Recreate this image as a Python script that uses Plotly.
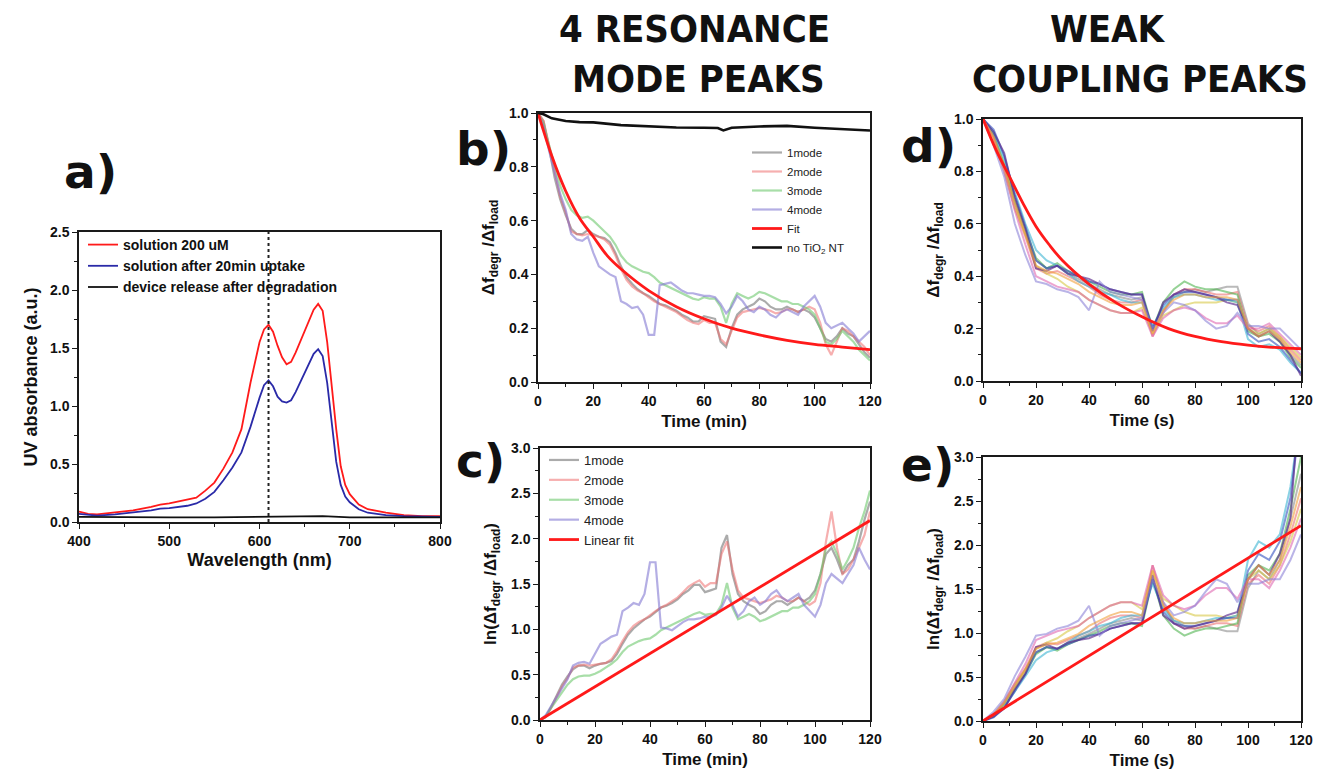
import plotly.graph_objects as go

# ---------------- Panel a : UV absorbance ----------------
wl = [400, 410, 420, 440, 460, 480, 490, 500, 520, 530, 540, 550, 560, 570, 580, 590, 600, 605, 610, 615,
      620, 625, 630, 635, 640, 650, 660, 665, 670, 675, 680, 685, 690, 695, 700, 710, 720, 740, 760, 780, 800]
abs_solution = [0.09, 0.07, 0.065, 0.08, 0.1, 0.13, 0.15, 0.16, 0.19, 0.21, 0.27, 0.34, 0.46, 0.6, 0.8, 1.2, 1.55, 1.66, 1.70, 1.64,
                1.52, 1.42, 1.36, 1.38, 1.46, 1.65, 1.83, 1.88, 1.82, 1.55, 1.17, 0.8, 0.48, 0.32, 0.24, 0.15, 0.11, 0.08, 0.06, 0.05, 0.05]
abs_uptake = [0.07, 0.06, 0.055, 0.065, 0.08, 0.1, 0.115, 0.12, 0.14, 0.16, 0.2, 0.26, 0.36, 0.47, 0.6, 0.82, 1.07, 1.18, 1.22, 1.17,
              1.08, 1.04, 1.03, 1.05, 1.12, 1.28, 1.45, 1.49, 1.43, 1.2, 0.85, 0.52, 0.32, 0.22, 0.17, 0.11, 0.08, 0.06, 0.05, 0.045, 0.045]
wl_release = [400, 450, 500, 550, 600, 650, 670, 700, 750, 800]
abs_release = [0.045, 0.04, 0.04, 0.04, 0.045, 0.05, 0.05, 0.04, 0.04, 0.04]
marker_wavelength = 610

# ---------------- Panels b, c : 4 resonance modes (min) ----------------
t_min = list(range(0, 121, 2))
b_1mode = [1.0, 0.97, 0.87, 0.76, 0.68, 0.62, 0.57, 0.55, 0.55, 0.565, 0.55, 0.54, 0.535, 0.52, 0.48, 0.43, 0.39, 0.365, 0.345, 0.33,
           0.32, 0.305, 0.29, 0.285, 0.275, 0.265, 0.25, 0.24, 0.225, 0.225, 0.245, 0.24, 0.235, 0.15, 0.13, 0.2, 0.25, 0.27, 0.28, 0.29,
           0.31, 0.3, 0.28, 0.27, 0.27, 0.28, 0.27, 0.26, 0.27, 0.26, 0.24, 0.2, 0.16, 0.15, 0.17, 0.2, 0.18, 0.17, 0.14, 0.11, 0.09]
b_2mode = [1.0, 0.97, 0.88, 0.78, 0.69, 0.63, 0.56, 0.55, 0.545, 0.55, 0.545, 0.54, 0.53, 0.51, 0.47, 0.42, 0.38, 0.355, 0.34, 0.33,
           0.315, 0.3, 0.29, 0.28, 0.27, 0.26, 0.245, 0.23, 0.22, 0.215, 0.23, 0.22, 0.22, 0.16, 0.14, 0.19, 0.24, 0.26, 0.265, 0.27,
           0.275, 0.27, 0.265, 0.255, 0.26, 0.27, 0.27, 0.26, 0.27, 0.28, 0.27, 0.22, 0.14, 0.1, 0.15, 0.2, 0.19, 0.17, 0.15, 0.13, 0.1]
b_3mode = [1.0, 0.96, 0.88, 0.8, 0.73, 0.68, 0.64, 0.62, 0.61, 0.615, 0.6, 0.58, 0.56, 0.54, 0.51, 0.47, 0.445, 0.43, 0.42, 0.41,
           0.405, 0.39, 0.37, 0.36, 0.35, 0.34, 0.33, 0.32, 0.31, 0.305, 0.315, 0.31, 0.31, 0.28, 0.22, 0.29, 0.33, 0.32, 0.31, 0.32,
           0.335, 0.33, 0.32, 0.31, 0.3, 0.3, 0.29, 0.29, 0.28, 0.27, 0.25, 0.2, 0.15, 0.14, 0.16, 0.19, 0.17, 0.15, 0.12, 0.1, 0.08]
b_4mode = [1.0, 0.95, 0.86, 0.78, 0.7, 0.64, 0.55, 0.53, 0.525, 0.54, 0.48, 0.43, 0.415, 0.4, 0.39, 0.3, 0.29, 0.275, 0.28, 0.25,
           0.175, 0.175, 0.36, 0.365, 0.37, 0.355, 0.34, 0.33, 0.33, 0.325, 0.32, 0.32, 0.315, 0.29, 0.255, 0.28, 0.32, 0.3, 0.27, 0.26,
           0.28, 0.27, 0.25, 0.24, 0.26, 0.27, 0.26, 0.25, 0.28, 0.3, 0.32, 0.28, 0.22, 0.2, 0.21, 0.22, 0.2, 0.18, 0.15, 0.17, 0.19]
t_fit_b = [0, 5, 10, 15, 20, 25, 30, 40, 50, 60, 70, 80, 90, 100, 110, 120]
fit_b = [1.0, 0.84, 0.71, 0.61, 0.54, 0.47, 0.42, 0.34, 0.28, 0.235, 0.2, 0.175, 0.155, 0.14, 0.13, 0.12]
t_noTiO2 = [0, 2, 5, 10, 15, 20, 30, 40, 50, 60, 65, 67, 70, 80, 90, 100, 110, 120]
no_TiO2 = [1.0, 0.995, 0.98, 0.97, 0.966, 0.965, 0.955, 0.95, 0.946, 0.945, 0.944, 0.935, 0.945, 0.95, 0.952, 0.945, 0.94, 0.935]

c_1mode = [0, 0.03, 0.14, 0.27, 0.39, 0.48, 0.56, 0.6, 0.6, 0.57, 0.6, 0.62, 0.63, 0.65, 0.73, 0.84, 0.94, 1.01, 1.06, 1.11,
           1.14, 1.19, 1.24, 1.26, 1.29, 1.33, 1.39, 1.43, 1.49, 1.49, 1.41, 1.43, 1.45, 1.9, 2.04, 1.61, 1.39, 1.31, 1.27, 1.24,
           1.17, 1.2, 1.27, 1.31, 1.31, 1.27, 1.31, 1.35, 1.31, 1.35, 1.43, 1.61, 1.83, 1.9, 1.77, 1.61, 1.71, 1.77, 1.97, 2.21, 2.41]
c_2mode = [0, 0.03, 0.13, 0.25, 0.37, 0.46, 0.58, 0.6, 0.61, 0.6, 0.61, 0.62, 0.63, 0.67, 0.76, 0.87, 0.97, 1.04, 1.08, 1.11,
           1.16, 1.2, 1.24, 1.27, 1.31, 1.35, 1.41, 1.47, 1.51, 1.54, 1.47, 1.51, 1.51, 1.83, 1.97, 1.66, 1.43, 1.35, 1.33, 1.31,
           1.29, 1.31, 1.33, 1.37, 1.35, 1.31, 1.31, 1.35, 1.31, 1.27, 1.31, 1.51, 1.97, 2.3, 1.9, 1.61, 1.66, 1.77, 1.9, 2.04, 2.3]
c_3mode = [0, 0.04, 0.13, 0.22, 0.31, 0.39, 0.45, 0.48, 0.49, 0.49, 0.51, 0.54, 0.58, 0.62, 0.67, 0.75, 0.81, 0.84, 0.87, 0.89,
           0.9, 0.94, 0.99, 1.02, 1.05, 1.08, 1.11, 1.14, 1.17, 1.19, 1.16, 1.17, 1.17, 1.27, 1.51, 1.24, 1.11, 1.14, 1.17, 1.14,
           1.09, 1.11, 1.14, 1.17, 1.2, 1.2, 1.24, 1.24, 1.27, 1.31, 1.39, 1.61, 1.9, 1.97, 1.83, 1.66, 1.77, 1.9, 2.12, 2.3, 2.53]
c_4mode = [0, 0.05, 0.15, 0.25, 0.36, 0.45, 0.6, 0.63, 0.64, 0.62, 0.73, 0.84, 0.88, 0.92, 0.94, 1.2, 1.24, 1.29, 1.27, 1.39,
           1.74, 1.74, 1.02, 1.01, 0.99, 1.04, 1.08, 1.11, 1.11, 1.12, 1.14, 1.14, 1.16, 1.24, 1.37, 1.27, 1.14, 1.2, 1.31, 1.35,
           1.27, 1.31, 1.39, 1.43, 1.35, 1.31, 1.35, 1.39, 1.27, 1.2, 1.14, 1.27, 1.51, 1.61, 1.56, 1.51, 1.61, 1.71, 1.9, 1.77, 1.66]
t_fit_c = [0, 120]
fit_c = [0.0, 2.2]

# ---------------- Panels d, e : weak coupling peaks (s) ----------------
t_s = list(range(0, 121, 4))
d_curves = [
    [1.0, 0.94, 0.82, 0.68, 0.56, 0.46, 0.43, 0.44, 0.41, 0.39, 0.37, 0.35, 0.33, 0.32, 0.31, 0.32, 0.2, 0.27, 0.32, 0.34, 0.35, 0.34, 0.35, 0.36, 0.36, 0.22, 0.18, 0.2, 0.16, 0.1, 0.06],
    [1.0, 0.93, 0.81, 0.66, 0.55, 0.43, 0.41, 0.42, 0.4, 0.38, 0.36, 0.33, 0.31, 0.3, 0.3, 0.31, 0.17, 0.26, 0.33, 0.35, 0.35, 0.34, 0.33, 0.33, 0.34, 0.21, 0.19, 0.21, 0.17, 0.12, 0.08],
    [1.0, 0.92, 0.8, 0.66, 0.56, 0.44, 0.41, 0.39, 0.36, 0.34, 0.31, 0.29, 0.27, 0.26, 0.26, 0.28, 0.18, 0.25, 0.27, 0.29, 0.3, 0.3, 0.3, 0.31, 0.3, 0.2, 0.18, 0.2, 0.17, 0.13, 0.09],
    [1.0, 0.94, 0.83, 0.69, 0.58, 0.47, 0.43, 0.45, 0.42, 0.4, 0.38, 0.36, 0.34, 0.33, 0.33, 0.34, 0.2, 0.3, 0.35, 0.38, 0.36, 0.35, 0.35, 0.34, 0.33, 0.19, 0.17, 0.18, 0.15, 0.09, 0.05],
    [1.0, 0.95, 0.85, 0.72, 0.6, 0.5, 0.46, 0.44, 0.41, 0.38, 0.36, 0.34, 0.33, 0.31, 0.3, 0.3, 0.21, 0.28, 0.32, 0.33, 0.33, 0.32, 0.31, 0.31, 0.3, 0.16, 0.13, 0.14, 0.12, 0.07, 0.03],
    [1.0, 0.96, 0.86, 0.71, 0.59, 0.46, 0.43, 0.44, 0.42, 0.4, 0.38, 0.37, 0.35, 0.34, 0.33, 0.33, 0.2, 0.29, 0.33, 0.34, 0.34, 0.33, 0.32, 0.31, 0.31, 0.18, 0.15, 0.16, 0.13, 0.08, 0.03],
    [1.0, 0.95, 0.87, 0.7, 0.58, 0.43, 0.42, 0.44, 0.41, 0.4, 0.39, 0.37, 0.35, 0.34, 0.33, 0.33, 0.19, 0.3, 0.33, 0.35, 0.34, 0.33, 0.32, 0.3, 0.29, 0.2, 0.17, 0.19, 0.15, 0.1, 0.02],
    [1.0, 0.93, 0.8, 0.65, 0.52, 0.4, 0.38, 0.36, 0.35, 0.34, 0.31, 0.29, 0.27, 0.26, 0.26, 0.27, 0.17, 0.24, 0.27, 0.28, 0.27, 0.24, 0.22, 0.22, 0.25, 0.2, 0.2, 0.22, 0.18, 0.14, 0.1],
    [1.0, 0.9, 0.78, 0.6, 0.48, 0.38, 0.37, 0.35, 0.34, 0.32, 0.27, 0.38, 0.34, 0.33, 0.32, 0.31, 0.2, 0.26, 0.3, 0.29, 0.27, 0.23, 0.2, 0.21, 0.26, 0.21, 0.21, 0.2, 0.2, 0.16, 0.12],
    [1.0, 0.93, 0.82, 0.68, 0.56, 0.44, 0.42, 0.41, 0.39, 0.37, 0.34, 0.32, 0.3, 0.29, 0.29, 0.3, 0.18, 0.27, 0.31, 0.33, 0.33, 0.32, 0.32, 0.32, 0.31, 0.2, 0.17, 0.19, 0.16, 0.11, 0.07],
]
e_curves = [
    [0, 0.06, 0.2, 0.39, 0.58, 0.78, 0.84, 0.82, 0.89, 0.94, 0.99, 1.05, 1.11, 1.14, 1.17, 1.14, 1.61, 1.31, 1.14, 1.08, 1.05, 1.08, 1.05, 1.02, 1.02, 1.51, 1.71, 1.61, 1.83, 2.3, 2.81],
    [0, 0.07, 0.21, 0.42, 0.6, 0.84, 0.89, 0.87, 0.92, 0.97, 1.02, 1.11, 1.17, 1.2, 1.2, 1.17, 1.77, 1.35, 1.11, 1.05, 1.05, 1.08, 1.11, 1.11, 1.08, 1.56, 1.66, 1.56, 1.77, 2.12, 2.53],
    [0, 0.08, 0.22, 0.42, 0.58, 0.82, 0.89, 0.94, 1.02, 1.08, 1.17, 1.24, 1.31, 1.35, 1.35, 1.27, 1.71, 1.39, 1.31, 1.24, 1.2, 1.2, 1.2, 1.17, 1.2, 1.61, 1.71, 1.61, 1.77, 2.04, 2.41],
    [0, 0.06, 0.19, 0.37, 0.54, 0.76, 0.84, 0.8, 0.87, 0.92, 0.97, 1.02, 1.08, 1.11, 1.11, 1.08, 1.61, 1.2, 1.05, 0.97, 1.02, 1.05, 1.05, 1.08, 1.11, 1.66, 1.77, 1.71, 1.9, 2.41, 3.0],
    [0, 0.05, 0.16, 0.33, 0.51, 0.69, 0.78, 0.82, 0.89, 0.97, 1.02, 1.08, 1.11, 1.17, 1.2, 1.2, 1.56, 1.27, 1.14, 1.11, 1.11, 1.14, 1.17, 1.17, 1.2, 1.83, 2.04, 1.97, 2.12, 2.66, 3.5],
    [0, 0.04, 0.15, 0.34, 0.53, 0.78, 0.84, 0.82, 0.87, 0.92, 0.97, 0.99, 1.05, 1.08, 1.11, 1.11, 1.61, 1.24, 1.11, 1.08, 1.08, 1.11, 1.14, 1.17, 1.17, 1.71, 1.9, 1.83, 2.04, 2.53, 3.5],
    [0, 0.05, 0.14, 0.36, 0.54, 0.84, 0.87, 0.82, 0.89, 0.92, 0.94, 0.99, 1.05, 1.08, 1.11, 1.11, 1.66, 1.2, 1.11, 1.05, 1.08, 1.11, 1.14, 1.2, 1.24, 1.61, 1.77, 1.66, 1.9, 2.3, 3.9],
    [0, 0.07, 0.22, 0.43, 0.65, 0.92, 0.97, 1.02, 1.05, 1.08, 1.17, 1.24, 1.31, 1.35, 1.35, 1.31, 1.77, 1.43, 1.31, 1.27, 1.31, 1.43, 1.51, 1.51, 1.39, 1.61, 1.61, 1.51, 1.71, 1.97, 2.3],
    [0, 0.105, 0.25, 0.51, 0.73, 0.97, 0.99, 1.05, 1.08, 1.14, 1.31, 0.97, 1.08, 1.11, 1.14, 1.17, 1.61, 1.35, 1.2, 1.24, 1.31, 1.47, 1.61, 1.56, 1.35, 1.56, 1.56, 1.61, 1.61, 1.83, 2.12],
    [0, 0.07, 0.2, 0.39, 0.58, 0.82, 0.87, 0.89, 0.94, 0.99, 1.08, 1.14, 1.2, 1.24, 1.24, 1.2, 1.71, 1.31, 1.17, 1.11, 1.11, 1.14, 1.14, 1.14, 1.17, 1.61, 1.77, 1.66, 1.83, 2.21, 2.66],
]
t_fit_d = [0, 5, 10, 15, 20, 25, 30, 40, 50, 60, 70, 80, 90, 100, 110, 120]
fit_d = [1.0, 0.88, 0.78, 0.68, 0.59, 0.52, 0.46, 0.37, 0.3, 0.245, 0.2, 0.17, 0.15, 0.137, 0.128, 0.123]
t_fit_e = [0, 120]
fit_e = [0.0, 2.22]

# ---------------- styles ----------------
# the page body has an 8px margin; the figure is sized so it fills the 1322x772 window
OFF = 8
W, H = 1322 - OFF, 772 - OFF
FONT = "Arial, 'Liberation Sans', sans-serif"
LETTER_FONT = "'DejaVu Sans', Arial, sans-serif"
TITLE_FONT = "'DejaVu Sans Condensed', 'Liberation Sans Narrow', sans-serif"
mode_names = ["1mode", "2mode", "3mode", "4mode"]
mode_colors = ["rgba(120,120,120,0.62)", "rgba(238,110,110,0.55)", "rgba(110,200,110,0.6)", "rgba(130,120,210,0.6)"]
curve_colors = ["rgba(140,140,140,0.6)", "rgba(235,100,100,0.55)", "rgba(215,200,70,0.6)", "rgba(80,180,80,0.6)",
                "rgba(60,180,210,0.6)", "rgba(50,80,190,0.6)", "rgba(90,40,140,0.65)", "rgba(220,90,170,0.55)",
                "rgba(140,130,215,0.6)", "rgba(240,160,60,0.6)"]
RED = "#ff1a1a"

fig = go.Figure()

# panel a
fig.add_trace(go.Scatter(x=wl, y=abs_solution, mode="lines", name="solution 200 uM",
                         line=dict(color=RED, width=1.8), xaxis="x", yaxis="y", legend="legend"))
fig.add_trace(go.Scatter(x=wl, y=abs_uptake, mode="lines", name="solution after 20min uptake",
                         line=dict(color="#2a2aa8", width=1.8), xaxis="x", yaxis="y", legend="legend"))
fig.add_trace(go.Scatter(x=wl_release, y=abs_release, mode="lines", name="device release after degradation",
                         line=dict(color="#111111", width=1.8), xaxis="x", yaxis="y", legend="legend"))
fig.add_trace(go.Scatter(x=[marker_wavelength, marker_wavelength], y=[0, 2.5], mode="lines", showlegend=False,
                         line=dict(color="#222222", width=2, dash="dot"), xaxis="x", yaxis="y"))

# panel b
for name, col, ys in zip(mode_names, mode_colors, [b_1mode, b_2mode, b_3mode, b_4mode]):
    fig.add_trace(go.Scatter(x=t_min, y=ys, mode="lines", name=name, line=dict(color=col, width=2.2),
                             xaxis="x2", yaxis="y2", legend="legend2"))
fig.add_trace(go.Scatter(x=t_fit_b, y=fit_b, mode="lines", name="Fit", line=dict(color=RED, width=2.8, shape="spline"),
                         xaxis="x2", yaxis="y2", legend="legend2"))
fig.add_trace(go.Scatter(x=t_noTiO2, y=no_TiO2, mode="lines", name="no TiO<sub>2</sub> NT",
                         line=dict(color="#111111", width=2.6), xaxis="x2", yaxis="y2", legend="legend2"))

# panel c
for name, col, ys in zip(mode_names, mode_colors, [c_1mode, c_2mode, c_3mode, c_4mode]):
    fig.add_trace(go.Scatter(x=t_min, y=ys, mode="lines", name=name, line=dict(color=col, width=2.2),
                             xaxis="x3", yaxis="y3", legend="legend3"))
fig.add_trace(go.Scatter(x=t_fit_c, y=fit_c, mode="lines", name="Linear fit", line=dict(color=RED, width=2.8),
                         xaxis="x3", yaxis="y3", legend="legend3"))

# panel d
for col, ys in zip(curve_colors, d_curves):
    fig.add_trace(go.Scatter(x=t_s, y=ys, mode="lines", showlegend=False, line=dict(color=col, width=2),
                             xaxis="x4", yaxis="y4"))
fig.add_trace(go.Scatter(x=t_fit_d, y=fit_d, mode="lines", showlegend=False, line=dict(color=RED, width=2.8, shape="spline"),
                         xaxis="x4", yaxis="y4"))

# panel e
for col, ys in zip(curve_colors, e_curves):
    fig.add_trace(go.Scatter(x=t_s, y=ys, mode="lines", showlegend=False, line=dict(color=col, width=2),
                             xaxis="x5", yaxis="y5"))
fig.add_trace(go.Scatter(x=t_fit_e, y=fit_e, mode="lines", showlegend=False, line=dict(color=RED, width=2.8),
                         xaxis="x5", yaxis="y5"))


def px2x(p):
    return (p - OFF) / W


def px2y(p):
    return 1 - (p - OFF) / H


def xd(p0, p1):
    return [px2x(p0), px2x(p1)]


def yd(top, bottom):
    return [px2y(bottom), px2y(top)]


def axis(domain, rng, dtick, minor_dtick, title, anchor, title_size=17, fmt=None, standoff=8):
    d = dict(domain=domain, range=rng, dtick=dtick, tick0=rng[0], anchor=anchor, automargin=False,
             showline=True, linecolor="#1a1a1a", linewidth=1.5, mirror=True,
             ticks="outside", ticklen=5, tickwidth=1.4, tickcolor="#1a1a1a",
             showgrid=False, zeroline=False, ticklabeloverflow="allow",
             tickfont=dict(family=FONT, size=14, color="#111", weight="bold"),
             title=dict(text=title, standoff=standoff,
                        font=dict(family=FONT, size=title_size, color="#111", weight="bold")),
             minor=dict(dtick=minor_dtick, ticks="outside", ticklen=3, tickwidth=1.2, tickcolor="#1a1a1a", showgrid=False))
    if fmt:
        d["tickformat"] = fmt
    return d


ylab_b = "Δf<sub>degr</sub> /Δf<sub>load</sub>"
ylab_c = "ln(Δf<sub>degr</sub> /Δf<sub>load</sub>)"

fig.update_layout(
    width=W, height=H, margin=dict(l=0, r=0, t=0, b=0),
    paper_bgcolor="white", plot_bgcolor="white", showlegend=True,
    xaxis=axis(xd(79, 440), [400, 800], 100, 50, "Wavelength (nm)", "y", title_size=18, standoff=6),
    yaxis=axis(yd(232, 522), [0, 2.5], 0.5, 0.25, "UV absorbance (a.u.)", "x", title_size=18, fmt=".1f", standoff=8),
    xaxis2=axis(xd(538, 870), [0, 120], 20, 10, "Time (min)", "y2", standoff=8),
    yaxis2=axis(yd(113, 382), [0, 1.0], 0.2, 0.1, ylab_b, "x2", fmt=".1f", standoff=10),
    xaxis3=axis(xd(540, 870), [0, 120], 20, 10, "Time (min)", "y3", standoff=8),
    yaxis3=axis(yd(448, 720), [0, 3.0], 0.5, 0.25, ylab_c, "x3", fmt=".1f", standoff=10),
    xaxis4=axis(xd(983, 1301), [0, 120], 20, 10, "Time (s)", "y4", standoff=8),
    yaxis4=axis(yd(119, 381), [0, 1.0], 0.2, 0.1, ylab_b, "x4", fmt=".1f", standoff=10),
    xaxis5=axis(xd(983, 1301), [0, 120], 20, 10, "Time (s)", "y5", standoff=8),
    yaxis5=axis(yd(457, 721), [0, 3.0], 0.5, 0.25, ylab_c, "x5", fmt=".1f", standoff=10),
    legend=dict(x=px2x(83), y=px2y(229), xanchor="left", yanchor="top", bgcolor="rgba(0,0,0,0)",
                font=dict(family=FONT, size=14, color="#111", weight="bold"), tracegroupgap=0),
    legend2=dict(x=px2x(747), y=px2y(138), xanchor="left", yanchor="top", bgcolor="rgba(0,0,0,0)",
                 font=dict(family=FONT, size=11.5, color="#222"), tracegroupgap=0),
    legend3=dict(x=px2x(544), y=px2y(445), xanchor="left", yanchor="top", bgcolor="rgba(0,0,0,0)",
                 font=dict(family=FONT, size=13, color="#222"), tracegroupgap=0),
)

# panel letters and column titles
letters = [("a)", 62, 171), ("b)", 454, 149), ("c)", 454, 461), ("d)", 899, 145), ("e)", 899, 464)]
for txt, px, py in letters:
    fig.add_annotation(x=px2x(px), y=px2y(py), xref="paper", yref="paper", text=txt, showarrow=False,
                       xanchor="left", yanchor="middle",
                       font=dict(family=LETTER_FONT, size=47, color="#111", weight="bold"))

titles = [("4 RESONANCE", 694, 29), ("MODE PEAKS", 698, 79), ("WEAK", 1108, 29), ("COUPLING PEAKS", 1140, 79)]
for txt, px, py in titles:
    fig.add_annotation(x=px2x(px), y=px2y(py), xref="paper", yref="paper", text=txt, showarrow=False,
                       xanchor="center", yanchor="middle",
                       font=dict(family=TITLE_FONT, size=38, color="#111", weight="bold"))

fig.write_html("out.html")
